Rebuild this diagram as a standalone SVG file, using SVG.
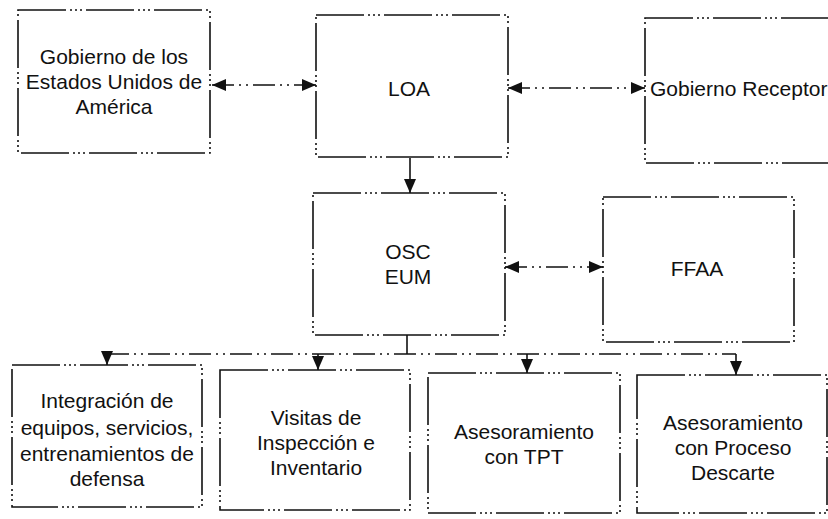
<svg xmlns="http://www.w3.org/2000/svg" width="828" height="519" viewBox="0 0 828 519">
<style>
.box{fill:#fff;stroke:#111;stroke-width:1.6;stroke-dasharray:48 4 2 3 2 3 2 4}
.lbl{font-family:"Liberation Sans",Arial,sans-serif;font-size:21px;fill:#111;text-anchor:middle}
.con{fill:none;stroke:#111;stroke-width:1.6;stroke-dasharray:22 5 2 5 2 5}
.solid{fill:none;stroke:#111;stroke-width:1.6}
</style>
<defs>
<marker id="arr" viewBox="0 0 14 12" refX="14" refY="6" markerWidth="14" markerHeight="12" markerUnits="userSpaceOnUse" orient="auto-start-reverse">
<path d="M0,0 L14,6 L0,12 Z" fill="#111"/>
</marker>
</defs>
<rect width="828" height="519" fill="#fff"/>
<g id="connectors">
<line class="con" x1="212" y1="85" x2="316" y2="85" marker-start="url(#arr)" marker-end="url(#arr)"/>
<line class="con" x1="508" y1="88" x2="645" y2="88" marker-start="url(#arr)" marker-end="url(#arr)"/>
<line class="solid" x1="410" y1="158" x2="410" y2="193" marker-end="url(#arr)"/>
<line class="con" x1="505" y1="267" x2="603" y2="267" marker-start="url(#arr)" marker-end="url(#arr)"/>
<line class="solid" x1="407" y1="335" x2="407" y2="354"/>
<line class="con" x1="107" y1="354" x2="736" y2="354"/>
<line class="solid" x1="107" y1="354" x2="107" y2="365" marker-end="url(#arr)"/>
<line class="solid" x1="318" y1="354" x2="318" y2="370" marker-end="url(#arr)"/>
<line class="solid" x1="527" y1="354" x2="527" y2="373" marker-end="url(#arr)"/>
<line class="solid" x1="736" y1="354" x2="736" y2="375" marker-end="url(#arr)"/>
</g>
<g id="gob-eua">
<rect class="box" x="18" y="10" width="192" height="143"/>
<text class="lbl" x="114" y="64">Gobierno de los</text>
<text class="lbl" x="114" y="89">Estados Unidos de</text>
<text class="lbl" x="114" y="114">América</text>
</g>
<g id="loa">
<rect class="box" x="316" y="15" width="192" height="142"/>
<text class="lbl" x="409" y="96">LOA</text>
</g>
<g id="gob-receptor">
<rect class="box" x="645" y="18" width="190" height="145"/>
<text class="lbl" x="650" y="96" style="text-anchor:start">Gobierno Receptor</text>
</g>
<g id="osc-eum">
<rect class="box" x="313" y="193" width="192" height="142"/>
<text class="lbl" x="408" y="259">OSC</text>
<text class="lbl" x="408" y="284">EUM</text>
</g>
<g id="ffaa">
<rect class="box" x="603" y="197" width="191" height="145"/>
<text class="lbl" x="697" y="276">FFAA</text>
</g>
<g id="integracion">
<rect class="box" x="12" y="365" width="190" height="142"/>
<text class="lbl" x="107" y="408">Integración de</text>
<text class="lbl" x="107" y="435">equipos, servicios,</text>
<text class="lbl" x="107" y="461">entrenamientos de</text>
<text class="lbl" x="107" y="486">defensa</text>
</g>
<g id="visitas">
<rect class="box" x="220" y="370" width="190" height="140"/>
<text class="lbl" x="316" y="425">Visitas de</text>
<text class="lbl" x="316" y="450">Inspección e</text>
<text class="lbl" x="316" y="475">Inventario</text>
</g>
<g id="tpt">
<rect class="box" x="428" y="373" width="192" height="140"/>
<text class="lbl" x="524" y="439">Asesoramiento</text>
<text class="lbl" x="524" y="464">con TPT</text>
</g>
<g id="descarte">
<rect class="box" x="637" y="375" width="190" height="138"/>
<text class="lbl" x="733" y="430">Asesoramiento</text>
<text class="lbl" x="733" y="455">con Proceso</text>
<text class="lbl" x="733" y="480">Descarte</text>
</g>
</svg>
